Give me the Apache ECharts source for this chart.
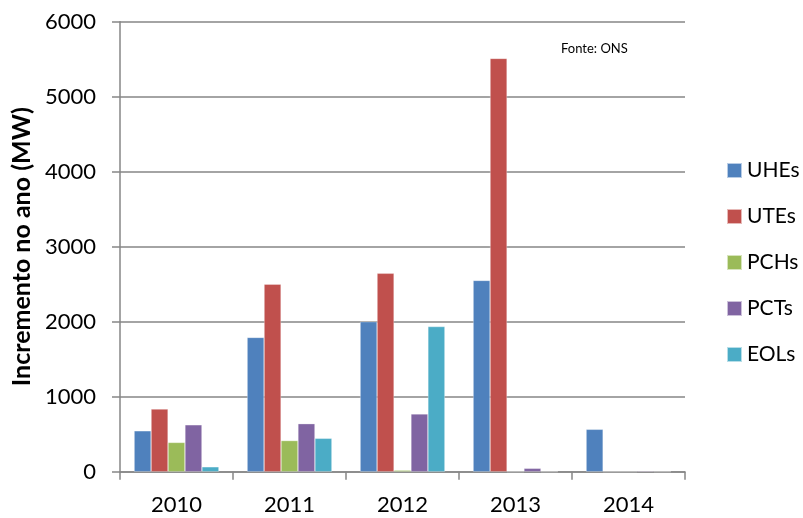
<!DOCTYPE html>
<html>
<head>
<meta charset="utf-8">
<script src="https://cdn.jsdelivr.net/npm/echarts@6/dist/echarts.min.js"></script>
<style>
  html, body { margin: 0; padding: 0; background: #fff; }
  #chart { width: 803px; height: 518px; }
</style>
</head>
<body>
<div id="chart"></div>
<script>
const years = ['2010', '2011', '2012', '2013', '2014']
const uhes = [545, 1790, 2000, 2550, 565]
const utes = [835, 2500, 2645, 5510, 0]
const pchs = [390, 415, 20, 0, 0]
const pcts = [625, 640, 770, 45, 10]
const eols = [65, 445, 1935, 0, 0]

const seriesNames = ['UHEs', 'UTEs', 'PCHs', 'PCTs', 'EOLs']
const seriesData = [uhes, utes, pchs, pcts, eols]
const colors = ['#4f81bd', '#c0504d', '#9bbb59', '#8064a2', '#4bacc6']

const font = 'Lato, Open Sans, sans-serif'
const axisGray = '#868686'

const chart = echarts.init(document.getElementById('chart'))

chart.setOption({
  animation: false,
  color: colors,
  textStyle: { fontFamily: font },
  grid: { left: 120, right: 118, top: 21.7, bottom: 46.3, containLabel: false },
  title: {
    text: 'Fonte: ONS',
    left: 556,
    top: 37,
    textStyle: { fontSize: 13, fontWeight: 'normal', color: '#000', fontFamily: font }
  },
  legend: {
    orient: 'vertical',
    left: 726,
    top: 160,
    padding: 0,
    itemWidth: 15,
    itemHeight: 15,
    itemGap: 25,
    icon: 'rect',
    textStyle: { fontSize: 21, color: '#000', fontFamily: font },
    data: seriesNames
  },
  xAxis: {
    type: 'category',
    data: years,
    axisLine: { lineStyle: { color: axisGray, width: 1.5 } },
    axisTick: { show: true, length: 8, lineStyle: { color: axisGray, width: 1.5 } },
    axisLabel: { fontSize: 22, color: '#000', margin: 22 }
  },
  yAxis: {
    type: 'value',
    min: 0,
    max: 6000,
    interval: 1000,
    name: 'Incremento no ano (MW)',
    nameLocation: 'middle',
    nameGap: 84,
    nameTextStyle: { fontSize: 25, fontWeight: 'bold', color: '#000' },
    axisLine: { show: true, lineStyle: { color: axisGray, width: 1.5 } },
    axisTick: { show: true, length: 8, lineStyle: { color: axisGray, width: 1.5 } },
    axisLabel: { fontSize: 22, color: '#000', margin: 24, formatter: v => String(v) },
    splitLine: { lineStyle: { color: axisGray, width: 1.5 } }
  },
  series: seriesNames.map((name, i) => ({
    name,
    type: 'bar',
    data: seriesData[i],
    barGap: '0%',
    barCategoryGap: '25%',
    itemStyle: { borderColor: 'rgba(255,255,255,0.6)', borderWidth: 0.5 }
  }))
})

window.addEventListener('resize', () => chart.resize())
</script>
</body>
</html>
